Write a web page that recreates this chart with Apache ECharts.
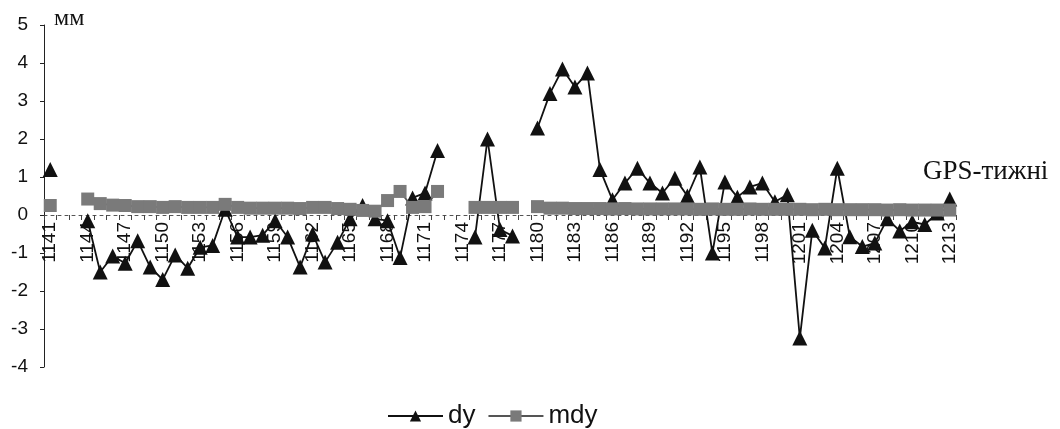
<!DOCTYPE html>
<html>
<head>
<meta charset="utf-8">
<script src="https://cdn.jsdelivr.net/npm/echarts@6/dist/echarts.min.js"></script>
<style>
html,body{margin:0;padding:0;background:#fff;}
#chart{width:1060px;height:429px;}
</style>
</head>
<body>
<div id="chart"></div>
<script>
const weeks = ['1141','1142','1143','1144','1145','1146','1147','1148','1149','1150',
  '1151','1152','1153','1154','1155','1156','1157','1158','1159','1160',
  '1161','1162','1163','1164','1165','1166','1167','1168','1169','1170',
  '1171','1172','1173','1174','1175','1176','1177','1178','1179','1180',
  '1181','1182','1183','1184','1185','1186','1187','1188','1189','1190',
  '1191','1192','1193','1194','1195','1196','1197','1198','1199','1200',
  '1201','1202','1203','1204','1205','1206','1207','1208','1209','1210',
  '1211','1212','1213'];

const dy = [1.2, null, null, -0.15, -1.5, -1.08, -1.27, -0.68, -1.37, -1.7,
  -1.05, -1.4, -0.85, -0.8, 0.15, -0.58, -0.58, -0.53, -0.15, -0.58,
  -1.37, -0.5, -1.24, -0.72, -0.1, 0.25, -0.1, -0.15, -1.12, 0.45,
  0.58, 1.7, null, null, -0.58, 2.0, -0.38, -0.55, null, 2.29,
  3.2, 3.84, 3.37, 3.74, 1.2, 0.4, 0.84, 1.23, 0.84, 0.58,
  0.97, 0.5, 1.26, -1.0, 0.87, 0.47, 0.74, 0.84, 0.35, 0.53,
  -3.24, -0.4, -0.87, 1.23, -0.57, -0.83, -0.74, -0.1, -0.42, -0.18,
  -0.25, 0.05, 0.42];

const mdy = [0.25, null, null, 0.42, 0.3, 0.26, 0.25, 0.22, 0.22, 0.2,
  0.22, 0.2, 0.2, 0.2, 0.28, 0.2, 0.18, 0.18, 0.18, 0.18,
  0.17, 0.2, 0.2, 0.17, 0.15, 0.12, 0.1, 0.38, 0.62, 0.2,
  0.22, 0.62, null, null, 0.2, 0.2, 0.2, 0.2, null, 0.22,
  0.18, 0.18, 0.17, 0.17, 0.17, 0.16, 0.17, 0.16, 0.16, 0.16,
  0.16, 0.16, 0.15, 0.16, 0.15, 0.15, 0.16, 0.15, 0.15, 0.15,
  0.15, 0.14, 0.15, 0.14, 0.14, 0.14, 0.14, 0.13, 0.14, 0.13,
  0.13, 0.13, 0.13];

const yTicks = {min: -4, max: 5, step: 1};
const yUnit = 'мм';
const xName = 'GPS-тижні';
const seriesNames = ['dy', 'mdy'];

const gridTop = 25, gridBottom = 62, chartH = 429;
const plotH = chartH - gridTop - gridBottom;
const zeroOffset = -plotH * (0 - yTicks.min) / (yTicks.max - yTicks.min);

const chart = echarts.init(document.getElementById('chart'));
chart.setOption({
  backgroundColor: '#ffffff',
  animation: false,
  grid: {left: 44, right: 104, top: gridTop, bottom: gridBottom, containLabel: false},
  legend: {
    data: seriesNames,
    left: 382, top: 398,
    itemWidth: 55, itemHeight: 14, itemGap: 12,
    textStyle: {fontFamily: 'Liberation Sans, Arial', fontSize: 26, color: '#111'}
  },
  xAxis: {
    type: 'category',
    data: weeks,
    boundaryGap: true,
    position: 'bottom',
    offset: zeroOffset,
    axisLine: {onZero: false, lineStyle: {color: '#555', width: 1, type: [3, 4]}},
    axisTick: {show: true, interval: 0, length: 5, lineStyle: {color: '#444'}},
    axisLabel: {interval: 2, rotate: 90, margin: 7, fontFamily: 'Liberation Sans, Arial', fontSize: 19, color: '#111'},
    splitLine: {show: false}
  },
  yAxis: {
    type: 'value',
    min: yTicks.min, max: yTicks.max, interval: yTicks.step,
    axisLine: {show: true, lineStyle: {color: '#222', width: 1}},
    axisTick: {show: true, length: 4, lineStyle: {color: '#222'}},
    axisLabel: {margin: 16, fontFamily: 'Liberation Sans, Arial', fontSize: 19, color: '#111'},
    splitLine: {show: false}
  },
  graphic: [
    {type: 'text', left: 54, top: 7, style: {text: yUnit, font: '24px "Liberation Serif", serif', fill: '#111'}},
    {type: 'text', left: 923, top: 158, style: {text: xName, font: '27px "Liberation Serif", serif', fill: '#111'}}
  ],
  series: [
    {
      name: 'dy', type: 'line', data: dy, z: 2,
      connectNulls: false,
      symbol: 'triangle', symbolSize: 15, showAllSymbol: true,
      lineStyle: {color: '#111', width: 1.8},
      itemStyle: {color: '#111'}
    },
    {
      name: 'mdy', type: 'line', data: mdy, z: 3,
      connectNulls: false,
      symbol: 'rect', symbolSize: 13, showAllSymbol: true,
      lineStyle: {color: '#555', width: 1.8},
      itemStyle: {color: '#7a7a7a'}
    }
  ]
});
</script>
</body>
</html>
